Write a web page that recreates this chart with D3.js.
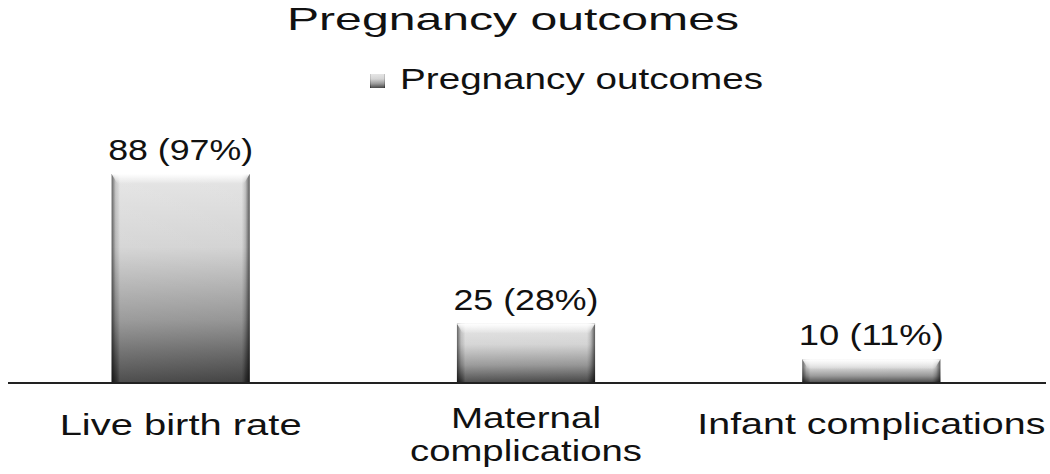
<!DOCTYPE html>
<html><head><meta charset="utf-8">
<script src="https://cdn.jsdelivr.net/npm/d3@7"></script>
<style>html,body{margin:0;padding:0;background:#fff;}svg{display:block;}</style>
</head><body>
<script>
const categories = ["Live birth rate", "Maternal complications", "Infant complications"];
const values = [88, 25, 10];
const percents = [97, 28, 11];
const seriesName = "Pregnancy outcomes";
const chartTitle = "Pregnancy outcomes";

const W = 1050, H = 474;
const svg = d3.select("body").append("svg").attr("width", W).attr("height", H);
const font = "'Liberation Sans', Arial, sans-serif";

const defs = svg.append("defs");
const g1 = defs.append("linearGradient").attr("id","barGrad").attr("x1",0).attr("y1",0).attr("x2",0).attr("y2",1);
g1.append("stop").attr("offset","0%").attr("stop-color","#e2e2e2");
g1.append("stop").attr("offset","35%").attr("stop-color","#cfcfcf");
g1.append("stop").attr("offset","70%").attr("stop-color","#8a8a8a");
g1.append("stop").attr("offset","100%").attr("stop-color","#2e2e2e");
const g2 = defs.append("linearGradient").attr("id","sideGrad").attr("x1",0).attr("y1",0).attr("x2",1).attr("y2",0);
g2.append("stop").attr("offset","0%").attr("stop-color","#000").attr("stop-opacity",0.55);
g2.append("stop").attr("offset","3%").attr("stop-color","#000").attr("stop-opacity",0.1);
g2.append("stop").attr("offset","6%").attr("stop-color","#fff").attr("stop-opacity",0.15);
g2.append("stop").attr("offset","94%").attr("stop-color","#fff").attr("stop-opacity",0.1);
g2.append("stop").attr("offset","97%").attr("stop-color","#000").attr("stop-opacity",0.15);
g2.append("stop").attr("offset","100%").attr("stop-color","#000").attr("stop-opacity",0.6);
const g3 = defs.append("linearGradient").attr("id","topGrad").attr("x1",0).attr("y1",0).attr("x2",0).attr("y2",1);
g3.append("stop").attr("offset","0%").attr("stop-color","#fff").attr("stop-opacity",1);
g3.append("stop").attr("offset","100%").attr("stop-color","#fff").attr("stop-opacity",0);

const x = d3.scaleBand().domain(categories).range([8, 1044]).paddingInner(0.6).paddingOuter(0.3);
const y = d3.scaleLinear().domain([0, 100]).range([383, 145.5]);

// Title
svg.append("text").attr("x", 513).attr("y", 30).attr("text-anchor","middle")
  .attr("font-family", font).attr("font-size", 32).attr("fill","#111")
  .attr("textLength", 452).attr("lengthAdjust","spacingAndGlyphs").text(chartTitle);

// Legend
svg.append("rect").attr("x", 370).attr("y", 74).attr("width", 15).attr("height", 14).attr("fill","url(#barGrad)");
svg.append("rect").attr("x", 370).attr("y", 74).attr("width", 15).attr("height", 14).attr("fill","url(#sideGrad)");
svg.append("text").attr("x", 400).attr("y", 89)
  .attr("font-family", font).attr("font-size", 29).attr("fill","#111")
  .attr("textLength", 363).attr("lengthAdjust","spacingAndGlyphs").text(seriesName);

// Bars
const bars = svg.append("g");
const data = categories.map((c,i)=>({c, v: values[i], p: percents[i]}));
bars.selectAll("rect.bar").data(data).join("rect").attr("class","bar")
  .attr("x", d=>x(d.c)).attr("y", d=>y(d.v)).attr("width", x.bandwidth()).attr("height", d=>y(0)-y(d.v))
  .attr("fill","url(#barGrad)");
bars.selectAll("rect.side").data(data).join("rect").attr("class","side")
  .attr("x", d=>x(d.c)).attr("y", d=>y(d.v)).attr("width", x.bandwidth()).attr("height", d=>y(0)-y(d.v))
  .attr("fill","url(#sideGrad)");
bars.selectAll("path.top").data(data).join("path").attr("class","top")
  .attr("d", d=>{const x0=x(d.c), x1=x0+x.bandwidth(), t=y(d.v); const b=Math.min(10,(y(0)-t)/2);
    return `M${x0},${t}L${x1},${t}L${x1-6},${t+b}L${x0+6},${t+b}Z`;})
  .attr("fill","url(#topGrad)");

// Value labels
svg.selectAll("text.val").data(data).join("text").attr("class","val")
  .attr("x", d=>x(d.c)+x.bandwidth()/2).attr("y", d=>y(d.v)-14).attr("text-anchor","middle")
  .attr("font-family", font).attr("font-size", 29).attr("fill","#111")
  .attr("textLength", 145).attr("lengthAdjust","spacingAndGlyphs")
  .text(d=>`${d.v} (${d.p}%)`);

// Axis line
const axis = d3.axisBottom(x).tickSize(0).tickFormat("");
const ax = svg.append("g").attr("transform","translate(0,383)").call(axis);
ax.select(".domain").attr("stroke","#222").attr("stroke-width",2.2).attr("d","M8,0H1046");

// Category labels
const catLines = {"Live birth rate":[["Live birth rate",242]], "Maternal complications":[["Maternal",150],["complications",232]], "Infant complications":[["Infant complications",348]]};
const catY = {"Live birth rate":[435], "Maternal complications":[428,461], "Infant complications":[434]};
categories.forEach(c=>{
  catLines[c].forEach((ln,j)=>{
    svg.append("text").attr("x", x(c)+x.bandwidth()/2).attr("y", catY[c][j]).attr("text-anchor","middle")
      .attr("font-family", font).attr("font-size", 30).attr("fill","#111")
      .attr("textLength", ln[1]).attr("lengthAdjust","spacingAndGlyphs").text(ln[0]);
  });
});
</script>
</body></html>
